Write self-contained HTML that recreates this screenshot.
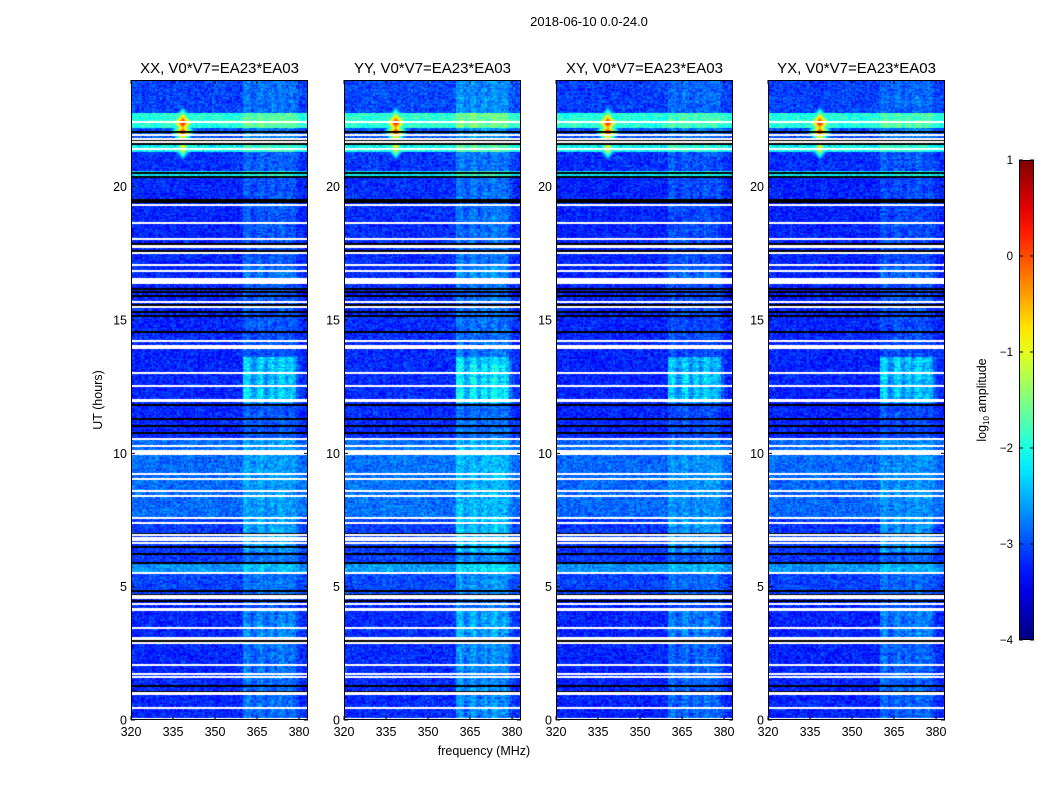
<!DOCTYPE html>
<html><head><meta charset="utf-8">
<style>
body{margin:0;background:#fff;width:1050px;height:800px;overflow:hidden;font-family:"Liberation Sans",sans-serif;}
#root{position:relative;width:1050px;height:800px;}
canvas{position:absolute;}
svg{position:absolute;left:0;top:0;}
</style></head><body>
<div id="root">
<svg id="svg" width="1050" height="800"></svg>
</div>
<script>
// ---- data ----
const panelTitles = ["XX, V0*V7=EA23*EA03","YY, V0*V7=EA23*EA03","XY, V0*V7=EA23*EA03","YX, V0*V7=EA23*EA03"];
const panelLeft = [131,344,556,768];
const panelGain = [0,0.12,-0.05,-0.05];
const xTicks = [320,335,350,365,380];
const yTicks = [0,5,10,15,20];
const cbTicks = [1,0,-1,-2,-3,-4];
// background level by hour: [start,end,log10 amp]
const bgStart = [0,4.6,5.5,5.9,7.6,10.5,20.4,20.6,21.3,21.55,22.2,22.75];
const bgEnd   = [4.6,5.5,5.9,7.6,10.5,20.4,20.6,21.3,21.55,22.2,22.75,24];
const bgLevel = [-3.2,-3.05,-2.65,-3.1,-2.85,-3.2,-2.2,-3.15,-2.1,-3.0,-1.95,-3.05];
// RFI band (360-380 MHz) per-MHz stripe strength
const bandF0 = 360;
const bandStripes = [0.9,1,0.85,0.5,0.6,0.9,1,0.7,0.5,0.8,0.9,0.6,0.8,1,0.9,0.7,0.8,0.9,0.7,0.3,0.1];
const bandStart = [0,3,4.1,6.3,7.6,11.9,13.6,16.5,17];
const bandEnd   = [3,4.1,6.3,7.6,11.9,13.6,16.5,17,24];
const bandLevel = [0.45,0.6,0.3,0.65,0.3,1.0,0.3,0.5,0.3];
// hot spots: freq, hour, peak
const spotF = [338.5,338.5,338.5,338.5];
const spotH = [22.4,22.05,21.5,21.35];
const spotV = [0.6,0.4,-0.7,-0.9];
// flagged (white) rows: hour centre, width in hours
const flagH = [22.45,21.93,21.81,21.68,21.41,19.34,18.63,18.04,17.76,17.51,17.07,16.85,16.48,15.70,15.48,14.23,13.98,13.02,12.55,11.96,10.55,10.28,10.09,9.99,9.22,9.04,8.60,8.41,7.60,7.38,6.95,6.85,6.76,6.65,5.54,4.61,4.36,4.14,3.47,3.05,2.89,2.09,1.75,1.62,1.00,0.47,0.06];
const flagW = [0.05,0.05,0.05,0.05,0.05,0.05,0.05,0.05,0.12,0.05,0.05,0.05,0.22,0.05,0.05,0.05,0.16,0.05,0.05,0.13,0.05,0.05,0.05,0.1,0.05,0.05,0.05,0.05,0.05,0.05,0.05,0.04,0.04,0.04,0.05,0.16,0.05,0.11,0.05,0.11,0.05,0.05,0.05,0.05,0.13,0.05,0.05];
// dark (black) rows
const blackH = [22.1,21.75,21.62,20.56,20.4,19.53,19.47,17.87,17.82,17.61,16.2,16.07,15.95,15.61,15.35,15.2,14.6,14.08,11.86,11.32,11.07,10.8,7.0,6.54,6.25,5.92,4.86,4.74,4.49,4.21,2.99,1.31,1.08];

// ---- scales ----
const PT=80, PB=720, PW=177, F0=320, F1=383.2, H1=24;
const xS = (f)=> (f-F0)/(F1-F0)*PW;
const yS = (h)=> PB - h/H1*(PB-PT);
const cbY = (v)=> 160 + (1-v)/5*480;
function jet(v){let t=Math.max(0,Math.min(1,(v+4)/5));
 const c=x=>Math.round(255*Math.max(0,Math.min(1,x)));
 return [c(1.5-Math.abs(4*t-3)),c(1.5-Math.abs(4*t-2)),c(1.5-Math.abs(4*t-1))];}
function seg(h,s,e,l){for(let i=0;i<s.length;i++) if(h>=s[i]&&h<e[i]) return l[i]; return l[l.length-1];}
function tex(a,b){let n=(a*374761393+b*668265263)^0x5bd1e995; n=(n^(n>>>13))*1274126177; n=n^(n>>>16); return ((n>>>0)%1000)/1000;}

function value(p,f,h){
 let v=seg(h,bgStart,bgEnd,bgLevel)+panelGain[p]*0.3;
 const fi=Math.floor(f*2), hi=Math.floor(h*20);
 v += (tex(fi+p*997,hi)-0.5)*0.6;
 if(f>=bandF0 && f<bandF0+bandStripes.length){
   const s=bandStripes[Math.floor(f-bandF0)];
   v += s*(seg(h,bandStart,bandEnd,bandLevel)+panelGain[p]) * (0.85+0.3*tex(hi,p+3));
 }
 for(let i=0;i<spotF.length;i++){
   const d=Math.abs(f-spotF[i])/1.0+Math.abs(h-spotH[i])/0.12;
   v=Math.max(v,spotV[i]-d*0.7);
 }
 return v;
}

const svg=document.getElementById('svg');
const NS='http://www.w3.org/2000/svg';
function el(tag,attrs,txt){const e=document.createElementNS(NS,tag);for(const k in attrs)e.setAttribute(k,attrs[k]);if(txt!==undefined)e.textContent=txt;svg.appendChild(e);return e;}

const root=document.getElementById('root');
panelLeft.forEach((L,p)=>{
 const cv=document.createElement('canvas');
 cv.width=PW;cv.height=PB-PT;cv.style.left=L+'px';cv.style.top=PT+'px';
 
 
 root.insertBefore(cv,svg);
 const ctx=cv.getContext('2d');const img=ctx.createImageData(PW,PB-PT);
 for(let y=0;y<PB-PT;y++){const h=(PB-PT-y-0.5)/(PB-PT)*H1;
  for(let x=0;x<PW;x++){const f=F0+(x+0.5)/PW*(F1-F0);
   const c=jet(value(p,f,h));const k=(y*PW+x)*4;
   img.data[k]=c[0];img.data[k+1]=c[1];img.data[k+2]=c[2];img.data[k+3]=255;}}
 ctx.putImageData(img,0,0);
 blackH.forEach(h=>{ctx.fillStyle='#000';ctx.fillRect(0,Math.round(yS(h)-PT),PW,2);});
 flagH.forEach((h,i)=>{const w=Math.max(1.5,flagW[i]/H1*(PB-PT));ctx.fillStyle='#fff';ctx.fillRect(0,Math.round(yS(h)-PT-w/2),PW,Math.round(w));});
 const fr=el('rect',{x:L+0.5,y:PT+0.5,width:PW-1,height:PB-PT-1,fill:'none',stroke:'#000','stroke-width':1});
 
 const t=el('text',{x:L+PW/2,y:73,'text-anchor':'middle','font-size':15},panelTitles[p]);
 
 xTicks.forEach(v=>{const x=L+xS(v);
  el('line',{x1:x,x2:x,y1:PB,y2:PB-4,stroke:'#000'});el('line',{x1:x,x2:x,y1:PT,y2:PT+4,stroke:'#000'});
  const tl=el('text',{x:x,y:PB+16,'text-anchor':'middle','font-size':12.5},String(v));
  });
 yTicks.forEach(v=>{const y=yS(v);
  el('line',{x1:L,x2:L+4,y1:y,y2:y,stroke:'#000'});el('line',{x1:L+PW,x2:L+PW-4,y1:y,y2:y,stroke:'#000'});
  const tl=el('text',{x:L-4,y:y+4.5,'text-anchor':'end','font-size':12.5},String(v));
  });
});
let e;
e=el('text',{x:589,y:26,'text-anchor':'middle','font-size':13},'2018-06-10 0.0-24.0');

e=el('text',{x:484,y:755,'text-anchor':'middle','font-size':12.5},'frequency (MHz)');

e=el('text',{x:102,y:400,'text-anchor':'middle','font-size':12.5,transform:'rotate(-90 102 400)'},'UT (hours)');

// colorbar
const defs=el('defs',{});const g=document.createElementNS(NS,'linearGradient');
g.setAttribute('id','jet');g.setAttribute('x1','0');g.setAttribute('y1','1');g.setAttribute('x2','0');g.setAttribute('y2','0');
for(let i=0;i<=20;i++){const c=jet(-4+i/4);const s=document.createElementNS(NS,'stop');s.setAttribute('offset',i/20);s.setAttribute('stop-color','rgb('+c+')');g.appendChild(s);}
defs.appendChild(g);
e=el('rect',{x:1019.5,y:160.5,width:14,height:479,fill:'url(#jet)',stroke:'#000'});

cbTicks.forEach(v=>{const y=cbY(v);
 el('line',{x1:1019,x2:1023,y1:y,y2:y,stroke:'#000'});el('line',{x1:1034,x2:1030,y1:y,y2:y,stroke:'#000'});
 const tl=el('text',{x:1013,y:y+4,'text-anchor':'end','font-size':11.5},v<0?'\u2212'+(-v):String(v));
 });
e=el('text',{x:986,y:400,'text-anchor':'middle','font-size':12.5,transform:'rotate(-90 986 400)'});

e.innerHTML='log<tspan font-size="8" dy="3">10</tspan><tspan dy="-3"> amplitude</tspan>';
</script>
</body></html>
